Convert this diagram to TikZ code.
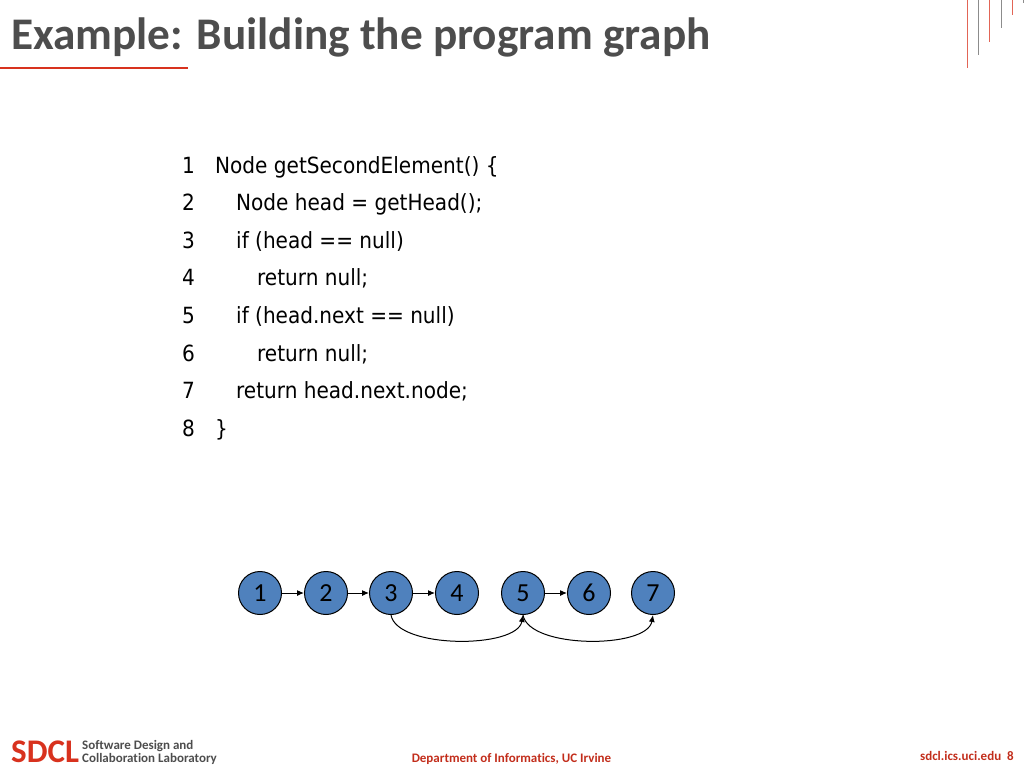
\documentclass[tikz,border=0pt]{standalone}
\usepackage{fontspec}
\setmainfont[Ligatures=NoCommon]{Carlito}
\newfontfamily\codefont{DejaVu Sans Condensed}
\definecolor{titlegray}{HTML}{4D4D4D}
\definecolor{sdclred}{HTML}{D8321E}
\definecolor{nodeblue}{HTML}{4F81BD}
\usetikzlibrary{arrows.meta}
\begin{document}
\begin{tikzpicture}
      [x=1pt,y=-1pt
      ,codeline/.style={anchor=base west,inner sep=0pt,font=\codefont\fontsize{22.3}{22}\selectfont,text=black}
      ,circ/.style={circle,draw=black,fill=nodeblue,line width=1pt,minimum size=43pt,inner sep=0pt,font=\fontsize{26}{26}\selectfont}
      ,edge/.style={-{Latex[length=7pt,width=6pt]},line width=1pt,black}
      ,redline/.style={color=sdclred!75!white,line width=.9pt}
      ,grayline/.style={color=black!45,line width=.9pt}
      ,foot/.style={inner sep=0pt,font=\fontsize{13}{13}\selectfont\bfseries}
      ]
        \useasboundingbox (0,0) rectangle (1024,768);

        % title
        \node[anchor=base west,inner sep=0pt,font=\fontsize{45.25}{45}\selectfont\bfseries,text=titlegray] (title) at (11,49.5) {Example: Building the program graph};
        \draw[color=sdclred,line width=1.2pt] (0,68) -- (188,68);

        % corner lines
        \draw[redline] (967,0) -- (967,68);
        \draw[grayline] (978.5,0) -- (978.5,55);
        \draw[redline] (989.5,0) -- (989.5,42);
        \draw[grayline] (1001,0) -- (1001,28);
        \draw[redline] (1012.5,0) -- (1012.5,15);
        \draw[grayline] (1023.5,0) -- (1023.5,3);

        % code
        \foreach \i/\indent/\code in {1/215/{Node getSecondElement() \{},
                                      2/236/{Node head = getHead();},
                                      3/236/{if (head == null)},
                                      4/257/{return null;},
                                      5/236/{if (head.next == null)},
                                      6/257/{return null;},
                                      7/236/{return head.next.node;},
                                      8/215/{\}}}{
            \node[codeline] (num\i) at (182, 173+37.6*\i-37.6) {\i};
            \node[codeline] (code\i) at (\indent, 173+37.6*\i-37.6) {\code};
        }

        % graph
        \foreach \i/\x in {1/260,2/326,3/391,4/457,5/523,6/589,7/653}{
            \node[circ] (n\i) at (\x,593) {\raisebox{-1pt}{\i}};
        }
        \foreach \a/\b in {1/2,2/3,3/4,5/6}{
            \draw[edge] (n\a) -- (n\b);
        }
        \draw[edge] (n3.south) .. controls +(6,34) and +(-6,34) .. (n5.south);
        \draw[edge] (n5.south) .. controls +(6,34) and +(-6,34) .. (n7.south);

        % footer
        \node[anchor=base west,inner sep=0pt,font=\fontsize{33}{33}\selectfont\bfseries,text=sdclred] (sdcl) at (11,762) {SDCL};
        \node[foot,anchor=base west,text=titlegray] (lab1) at (82,749) {Software Design and};
        \node[foot,anchor=base west,text=titlegray] (lab2) at (82,762) {Collaboration Laboratory};
        \node[foot,anchor=base,text=sdclred!90!black] (dept) at (511.5,762) {Department of Informatics, UC Irvine};
        \node[foot,anchor=base east,text=sdclred!90!black] (site) at (1014,760) {sdcl.ics.uci.edu\hspace{6pt}8};
\end{tikzpicture}
\end{document}
